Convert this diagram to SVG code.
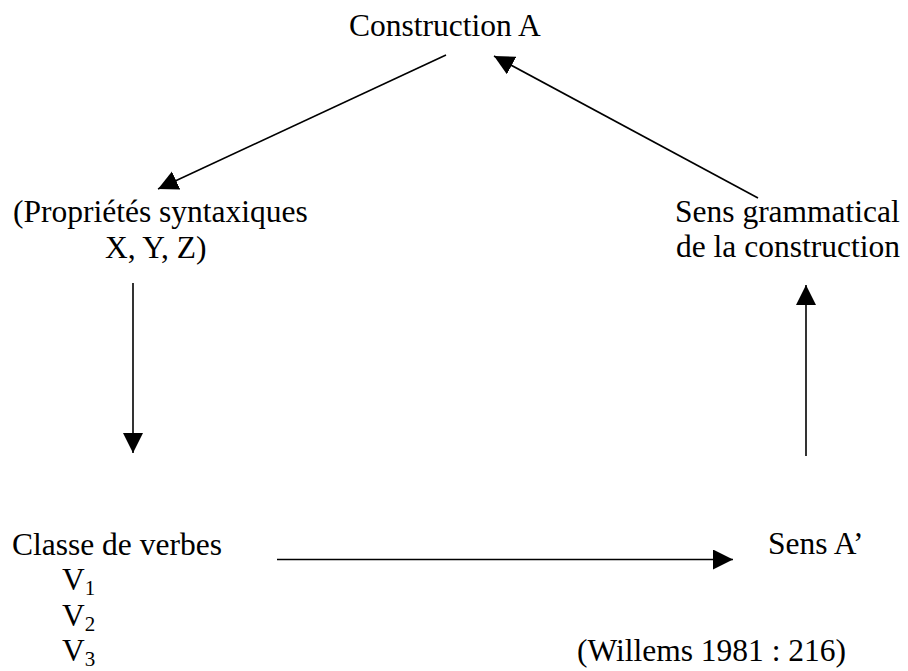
<svg xmlns="http://www.w3.org/2000/svg" width="908" height="671" viewBox="0 0 908 671">
<style>
text{font-family:"Liberation Serif","Times New Roman",serif;font-size:31.5px;fill:#000}
.sub{font-size:21px}
.c{fill:none;stroke:#000;stroke-width:1.6;marker-end:url(#ah)}
</style>
<defs>
<marker id="ah" markerUnits="userSpaceOnUse" markerWidth="21" markerHeight="21" refX="20" refY="10" orient="auto" viewBox="0 0 21 21">
<path d="M0,0 L20,10 L0,20 Z" fill="#000"/>
</marker>
</defs>
<rect width="908" height="671" fill="#fff"/>
<g id="connectors">
<line class="c" x1="446" y1="55" x2="158" y2="189"/>
<line class="c" x1="758" y1="198" x2="494" y2="56"/>
<line class="c" x1="133" y1="283" x2="133" y2="453"/>
<line class="c" x1="806" y1="456" x2="806" y2="285"/>
<line class="c" x1="277" y1="559.5" x2="733" y2="559.5"/>
</g>
<g id="construction"><text x="349" y="36">Construction A</text></g>
<g id="proprietes"><text x="13" y="222">(Propriétés syntaxiques</text><text x="105" y="258">X, Y, Z)</text></g>
<g id="sens-grammatical"><text x="675" y="222">Sens grammatical</text><text x="676" y="257">de la construction</text></g>
<g id="classe"><text x="12" y="555">Classe de verbes</text>
<text x="62" y="590">V<tspan class="sub" dy="5">1</tspan></text>
<text x="62" y="626">V<tspan class="sub" dy="5">2</tspan></text>
<text x="62" y="661">V<tspan class="sub" dy="5">3</tspan></text></g>
<g id="sens-a"><text x="768" y="554">Sens A’</text></g>
<g id="source"><text x="577" y="661">(Willems 1981 : 216)</text></g>
</svg>
